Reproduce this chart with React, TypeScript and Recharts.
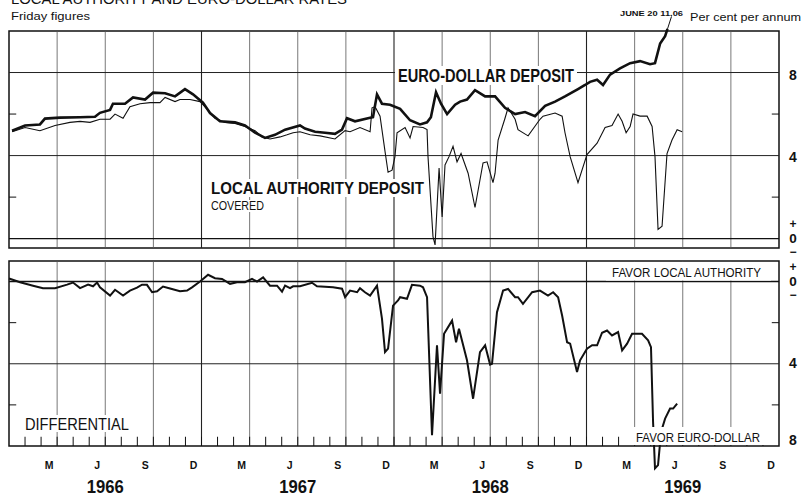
import { LineChart, Line, XAxis, YAxis, ReferenceLine, ReferenceArea } from "recharts";

const FONT = '"Liberation Sans", Arial, Helvetica, sans-serif';
const INK = "#111";

// x = months since 1 January 1966, y = per cent per annum (Friday figures)
const euroDollar: [number, number][] = [
  [0.19, 5.2], [1.0, 5.45], [1.93, 5.5], [2.24, 5.78], [3.18, 5.83], [4.43, 5.85], [5.36, 5.87],
  [5.67, 6.06], [6.3, 6.2], [6.48, 6.5], [7.23, 6.5], [7.73, 6.8], [8.48, 6.7], [8.98, 7.03],
  [9.73, 7.0], [10.35, 6.85], [10.97, 7.2], [11.47, 6.95], [12.09, 6.55], [12.53, 6.05],
  [13.15, 5.65], [14.09, 5.6], [14.71, 5.45], [15.34, 5.1], [15.96, 4.85], [16.58, 5.0],
  [17.21, 5.25], [18.14, 5.45], [18.45, 5.3], [19.08, 5.15], [19.7, 5.1], [20.32, 5.05],
  [20.76, 5.25], [21.07, 5.8], [21.57, 5.65], [22.51, 5.82], [22.69, 5.85], [22.94, 6.95],
  [23.25, 6.5], [23.75, 6.45], [24.38, 6.25], [25.0, 5.7], [25.62, 5.5], [26.06, 5.6],
  [26.3, 5.85], [26.62, 7.05], [26.93, 6.5], [27.31, 6.0], [27.81, 6.45], [28.12, 6.6],
  [28.55, 6.7], [29.05, 7.15], [29.68, 6.85], [30.3, 6.85], [30.92, 6.3], [31.55, 6.0],
  [32.17, 6.1], [32.79, 5.9], [33.42, 6.4], [34.04, 6.6], [34.66, 6.85], [35.47, 7.2],
  [35.91, 7.4], [36.22, 7.55], [36.66, 7.65], [37.03, 7.4], [37.47, 7.9], [38.09, 8.2],
  [38.72, 8.45], [39.34, 8.55], [39.96, 8.4], [40.27, 8.45], [40.59, 9.4], [40.9, 9.75],
  [41.05, 10.1],
];

const localAuthority: [number, number][] = [
  [0.19, 5.15], [1.0, 5.35], [1.93, 5.2], [2.87, 5.45], [3.8, 5.6], [4.43, 5.65], [5.05, 5.6],
  [5.67, 5.75], [6.3, 5.75], [6.61, 6.0], [7.11, 5.8], [7.54, 6.35], [8.17, 6.5], [8.79, 6.55],
  [9.41, 6.55], [9.73, 6.8], [10.35, 6.6], [10.66, 6.7], [11.28, 6.7], [11.91, 6.6],
  [12.22, 6.35], [12.84, 5.8], [13.47, 5.6], [14.09, 5.55], [14.71, 5.4], [15.34, 5.2],
  [15.77, 4.9], [16.27, 4.8], [16.9, 4.9], [17.33, 5.0], [17.71, 5.1], [18.14, 5.15],
  [18.77, 5.0], [19.39, 4.95], [20.32, 4.8], [20.95, 5.2], [21.26, 5.15], [21.88, 5.35],
  [22.51, 5.15], [22.63, 6.3], [22.82, 6.35], [23.13, 5.9], [23.44, 4.2], [23.63, 3.2],
  [23.88, 3.3], [24.06, 3.95], [24.19, 5.1], [24.69, 5.35], [25.0, 4.85], [25.19, 5.4],
  [25.81, 5.35], [26.06, 5.25], [26.12, 3.95], [26.43, 0.1], [26.56, -0.3], [26.81, 3.4],
  [27.0, 1.05], [27.18, 3.55], [27.43, 3.95], [27.68, 4.45], [27.93, 3.7], [28.18, 4.1],
  [28.62, 3.15], [29.05, 1.5], [29.55, 3.65], [29.8, 3.7], [30.17, 2.7], [30.3, 3.15],
  [30.49, 4.75], [30.92, 5.8], [31.11, 6.3], [31.55, 5.75], [31.73, 5.25], [32.36, 4.95],
  [33.1, 5.75], [33.29, 5.9], [34.04, 6.05], [34.48, 5.9], [34.66, 5.1], [34.98, 3.95],
  [35.47, 2.7], [36.03, 4.05], [36.66, 4.6], [37.16, 5.35], [37.59, 5.45], [37.97, 6.0],
  [38.22, 5.65], [38.47, 5.1], [38.72, 5.4], [38.9, 6.0], [39.34, 5.9], [39.78, 5.9],
  [40.09, 5.4], [40.27, 3.95], [40.46, 0.45], [40.71, 0.6], [41.02, 4.1], [41.33, 4.75],
  [41.65, 5.25], [41.96, 5.15],
];

// differential, plotted downwards: positive favours euro-dollar
const differential: [number, number][] = [
  [0, -0.15], [0.69, 0.03], [1.5, 0.2], [2.12, 0.32], [2.87, 0.32], [3.62, 0.15], [3.99, 0.05],
  [4.43, 0.32], [4.93, 0.15], [5.24, 0.23], [5.49, 0.05], [5.67, 0.28], [6.3, 0.68], [6.61, 0.4],
  [7.11, 0.68], [7.54, 0.44], [7.98, 0.3], [8.29, 0.15], [8.6, 0.16], [8.92, 0.52], [9.23, 0.47],
  [9.6, 0.24], [10.04, 0.34], [10.66, 0.47], [11.1, 0.44], [11.41, 0.28], [11.91, 0.0],
  [12.41, -0.33], [12.84, -0.16], [13.28, -0.13], [13.78, 0.11], [14.21, 0.03], [14.71, 0.03],
  [15.15, -0.13], [15.46, 0.0], [15.84, -0.2], [16.27, 0.2], [16.71, 0.2], [17.02, 0.49],
  [17.21, 0.2], [17.52, 0.32], [17.71, 0.23], [18.14, 0.23], [18.89, 0.06], [19.2, 0.23],
  [20.2, 0.28], [20.76, 0.35], [20.95, 0.76], [21.26, 0.44], [21.7, 0.52], [21.88, 0.32],
  [22.19, 0.52], [22.51, 0.68], [22.94, 0.2], [23.25, 1.8], [23.44, 3.43], [23.63, 3.26],
  [23.94, 1.17], [24.25, 0.92], [24.38, 0.76], [24.81, 0.84], [25.12, 0.16], [25.62, 0.2],
  [25.81, 0.28], [26.06, 0.76], [26.37, 7.48], [26.68, 3.1], [26.87, 5.45], [27.12, 2.54],
  [27.62, 1.9], [27.87, 2.95], [28.05, 2.3], [28.55, 3.83], [28.93, 5.7], [29.36, 3.43],
  [29.68, 3.1], [29.99, 4.04], [30.11, 4.0], [30.42, 1.49], [30.8, 0.44], [31.11, 0.36],
  [31.55, 0.76], [31.73, 0.76], [32.04, 1.08], [32.61, 0.52], [33.1, 0.44], [33.6, 0.68],
  [33.92, 0.52], [34.23, 0.76], [34.48, 1.65], [34.79, 2.95], [34.98, 3.02], [35.41, 4.4],
  [35.6, 3.83], [36.03, 3.27], [36.35, 3.1], [36.66, 3.1], [36.97, 2.49], [37.28, 2.38],
  [37.59, 2.62], [37.97, 2.46], [38.22, 3.35], [38.53, 3.02], [38.84, 2.54], [39.46, 2.54],
  [39.84, 2.86], [40.02, 3.19], [40.15, 6.83], [40.27, 9.09], [40.46, 8.93], [40.65, 7.3],
  [40.9, 6.67], [41.21, 6.18], [41.4, 6.18], [41.65, 5.94],
];

const quarterLines = [3, 6, 9, 15, 18, 21, 27, 30, 33, 39, 42, 45];
const yearLines = [12, 24, 36];
const monthMarks = Array.from({ length: 47 }, (_, i) => i + 1);
const quarterMid = [2.5, 5.5, 8.5, 11.5, 14.5, 17.5, 20.5, 23.5, 26.5, 29.5, 32.5, 35.5, 38.5, 41.5, 44.5, 47.5];
const quarterLetters = ["M", "J", "S", "D"];
const yearMid = [6, 18, 30, 42];
const yearLabels = ["1966", "1967", "1968", "1969"];
const rateTicks = [0, 4, 8];
const halfTicks = [2, 6];

const toRows = (pts: [number, number][]) => pts.map(([m, v]) => ({ m, v }));

const rateTick = (nudge: Record<number, number>) => (props: any) => {
  const { y, payload } = props;
  const v = payload.value;
  const cx = 793;
  if (v === 0) {
    return (
      <g fontFamily={FONT} fontWeight="bold" fill={INK} textAnchor="middle">
        <text x={cx} y={y - 11} fontSize={12}>+</text>
        <text x={cx} y={y + 4} fontSize={13.5}>0</text>
        <text x={cx} y={y + 17.8} fontSize={12}>−</text>
      </g>
    );
  }
  return (
    <text x={cx} y={y + nudge[v]} fontFamily={FONT} fontWeight="bold" fontSize={14} fill={INK} textAnchor="middle">
      {v}
    </text>
  );
};

const monthTick = (props: any) => {
  const { x, y, payload } = props;
  return (
    <text x={x} y={y + 20.5} fontFamily={FONT} fontWeight="bold" fontSize={10.5} fill={INK} textAnchor="middle">
      {quarterLetters[quarterMid.indexOf(payload.value) % 4]}
    </text>
  );
};

const yearTick = (props: any) => {
  const { x, y, payload } = props;
  return (
    <text x={x} y={y + 20.5} fontFamily={FONT} fontWeight="bold" fontSize={18.5} fill={INK} textAnchor="middle"
      textLength={37} lengthAdjust="spacingAndGlyphs">
      {yearLabels[yearMid.indexOf(payload.value)]}
    </text>
  );
};

function gridLines(low: number, high: number) {
  return [
    ...quarterLines.map((m) => <ReferenceLine key={`q${m}`} x={m} stroke="#555" strokeWidth={0.8} />),
    ...yearLines.map((m) => <ReferenceLine key={`y${m}`} x={m} stroke="#222" strokeWidth={1.1} />),
    ...halfTicks.map((v) => (
      <ReferenceLine key={`l${v}`} segment={[{ x: 0, y: v }, { x: 0.45, y: v }]} stroke={INK} strokeWidth={1} />
    )),
    ...halfTicks.map((v) => (
      <ReferenceLine key={`r${v}`} segment={[{ x: 47.55, y: v }, { x: 48, y: v }]} stroke={INK} strokeWidth={1} />
    )),
    <ReferenceArea key="frame" x1={0} x2={48} y1={low} y2={high} fill="none" fillOpacity={0} stroke={INK} strokeWidth={1.5} />,
  ];
}

function RatesPanel() {
  return (
    <LineChart width={805} height={262} margin={{ top: 31, right: 0, bottom: 14, left: 9 }}>
      <XAxis type="number" dataKey="m" domain={[0, 48]} allowDataOverflow hide />
      <YAxis type="number" orientation="right" width={26} domain={[-0.45, 10]} allowDataOverflow
        ticks={rateTicks} interval={0} axisLine={false} tickLine={false} tickSize={0}
        tick={rateTick({ 4: 6.5, 8: 7.5 })} />
      {gridLines(-0.45, 10)}
      <ReferenceLine y={8} stroke="#222" strokeWidth={1} />
      <ReferenceLine y={4} stroke="#222" strokeWidth={1} />
      <ReferenceLine y={0} stroke={INK} strokeWidth={1.4} />
      <Line data={toRows(localAuthority)} dataKey="v" type="linear" stroke={INK} strokeWidth={1.1}
        dot={false} isAnimationActive={false} />
      <Line data={toRows(euroDollar)} dataKey="v" type="linear" stroke={INK} strokeWidth={2.6}
        dot={false} isAnimationActive={false} />
      <ReferenceLine segment={[{ x: 41.05, y: 10.1 }, { x: 41.3, y: 10.7 }]} ifOverflow="visible"
        stroke={INK} strokeWidth={1} />
    </LineChart>
  );
}

function DifferentialPanel() {
  return (
    <LineChart width={805} height={245} margin={{ top: 11, right: 0, bottom: 0, left: 9 }}>
      <XAxis type="number" dataKey="m" domain={[0, 48]} allowDataOverflow height={24}
        ticks={quarterMid} interval={0} axisLine={false} tickLine={false} tickSize={0} tick={monthTick} />
      <XAxis xAxisId="years" type="number" dataKey="m" domain={[0, 48]} allowDataOverflow height={25}
        ticks={yearMid} interval={0} axisLine={false} tickLine={false} tickSize={0} tick={yearTick} />
      <YAxis type="number" orientation="right" width={26} domain={[-1, 8]} reversed allowDataOverflow
        ticks={rateTicks} interval={0} axisLine={false} tickLine={false} tickSize={0}
        tick={rateTick({ 4: 4.5, 8: -1 })} />
      {gridLines(-1, 8)}
      {monthMarks.map((m) => (
        <ReferenceLine key={`t${m}`} segment={[{ x: m, y: 8 }, { x: m, y: 7.55 }]} stroke={INK} strokeWidth={1} />
      ))}
      <ReferenceLine y={4} stroke="#222" strokeWidth={1} />
      <ReferenceLine y={0} stroke={INK} strokeWidth={1.5} />
      <Line data={toRows(differential)} dataKey="v" type="linear" stroke={INK} strokeWidth={2}
        dot={false} isAnimationActive={false} />
    </LineChart>
  );
}

function Annotations() {
  const boxed = { fill: "#fff" };
  return (
    <svg width={805} height={495} style={{ position: "absolute", left: 0, top: 0, pointerEvents: "none" }}
      fontFamily={FONT} fill={INK}>
      <text x={11} y={4} fontSize={15} textLength={336} lengthAdjust="spacingAndGlyphs">
        LOCAL AUTHORITY AND EURO-DOLLAR RATES
      </text>
      <text x={11} y={20} fontSize={11.5} textLength={79} lengthAdjust="spacingAndGlyphs">Friday figures</text>
      <text x={620} y={15.7} fontSize={8} fontWeight="bold" textLength={63} lengthAdjust="spacingAndGlyphs">
        JUNE 20 11.06
      </text>
      <text x={690} y={21} fontSize={11.5} textLength={111} lengthAdjust="spacingAndGlyphs">Per cent per annum</text>

      <rect x={395} y={66} width={182} height={19} {...boxed} />
      <text x={398} y={82} fontSize={18} fontWeight="bold" textLength={176} lengthAdjust="spacingAndGlyphs">
        EURO-DOLLAR DEPOSIT
      </text>

      <rect x={208} y={179} width={219} height={18} {...boxed} />
      <text x={211} y={194} fontSize={17} fontWeight="bold" textLength={213} lengthAdjust="spacingAndGlyphs">
        LOCAL AUTHORITY DEPOSIT
      </text>
      <rect x={208} y={200} width={60} height={12} {...boxed} />
      <text x={211} y={210} fontSize={12.5} textLength={53} lengthAdjust="spacingAndGlyphs">COVERED</text>

      <rect x={606} y={262} width={165} height={18.5} {...boxed} />
      <text x={612} y={277} fontSize={12.5} textLength={149} lengthAdjust="spacingAndGlyphs">FAVOR LOCAL AUTHORITY</text>

      <rect x={631} y={427} width={136} height={18} {...boxed} />
      <text x={636} y={441.5} fontSize={13} textLength={124} lengthAdjust="spacingAndGlyphs">FAVOR EURO-DOLLAR</text>

      <rect x={22} y={415} width={110} height={17} {...boxed} />
      <text x={25} y={429.5} fontSize={16} textLength={104} lengthAdjust="spacingAndGlyphs">DIFFERENTIAL</text>
    </svg>
  );
}

export default function App() {
  return (
    <div style={{ position: "absolute", left: 0, top: 0, width: 805, height: 495, background: "#fff", fontFamily: FONT }}>
      <style>{".recharts-line, .recharts-line * { clip-path: none !important; }"}</style>
      <div style={{ position: "absolute", left: 0, top: 0 }}>
        <RatesPanel />
      </div>
      <div style={{ position: "absolute", left: 0, top: 250 }}>
        <DifferentialPanel />
      </div>
      <Annotations />
    </div>
  );
}
